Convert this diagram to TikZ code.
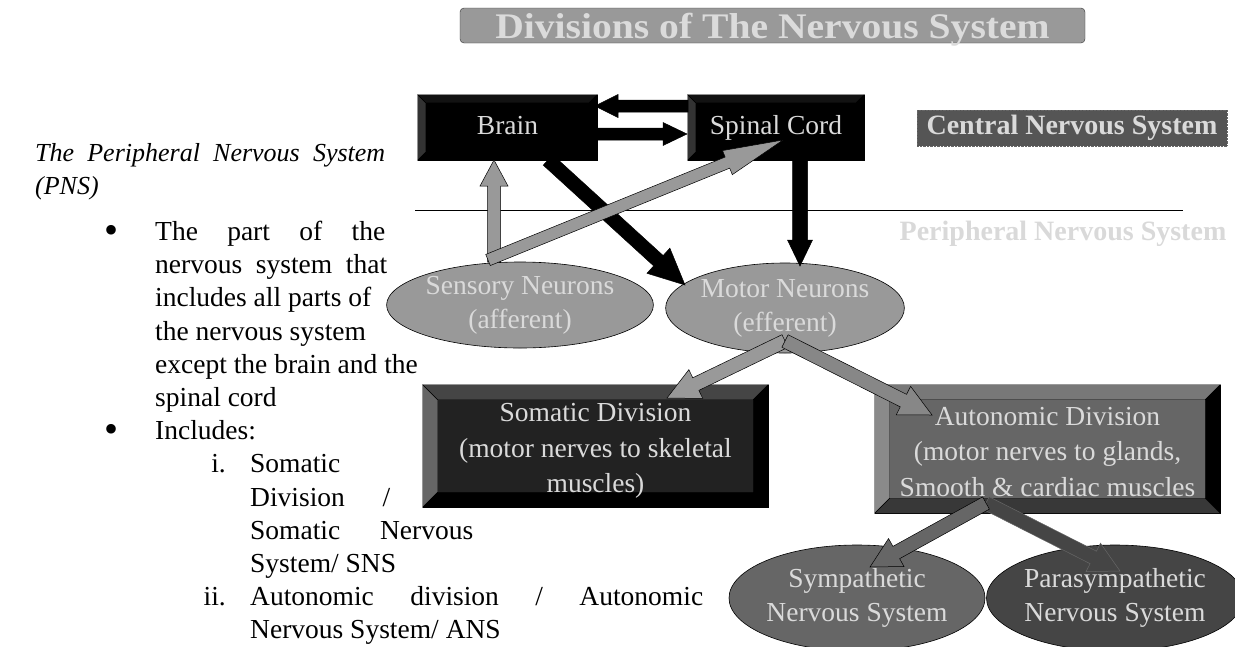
\documentclass[tikz,border=0pt]{standalone}
\usepackage{fontspec}
\setmainfont{Liberation Serif}
\usetikzlibrary{calc,shapes.geometric}

\definecolor{lighttext}{HTML}{DADADA}
\definecolor{neurongray}{HTML}{999999}
\definecolor{cnsgray}{HTML}{555555}
\definecolor{somface}{HTML}{222222}
\definecolor{autoface}{HTML}{666666}
\definecolor{symgray}{HTML}{666666}
\definecolor{paragray}{HTML}{454545}

% block arrow: style, from, to, half shaft, half head, head length
\newcommand{\blockarrow}[6]{%
  \coordinate (hb) at ($(#3)!#6!(#2)$);
  \filldraw[#1] ($(#2)!#4!90:(#3)$) -- ($(hb)!#4!90:(#3)$) -- ($(hb)!#5!90:(#3)$) -- (#3)
    -- ($(hb)!#5!-90:(#3)$) -- ($(hb)!#4!-90:(#3)$) -- ($(#2)!#4!-90:(#3)$) -- cycle;
}

% bevel frame round a box: node, width, left, top, right, bottom
\newcommand{\bevel}[6]{%
  \filldraw[fill=#3, draw=black, line width=.4pt] (#1.north west) -- (#1.south west)
    -- ([shift={(#2,-#2)}]#1.south west) -- ([shift={(#2,#2)}]#1.north west) -- cycle;
  \filldraw[fill=#4, draw=black, line width=.4pt] (#1.north west) -- (#1.north east)
    -- ([shift={(-#2,#2)}]#1.north east) -- ([shift={(#2,#2)}]#1.north west) -- cycle;
  \filldraw[fill=#5, draw=black, line width=.4pt] (#1.north east) -- (#1.south east)
    -- ([shift={(-#2,-#2)}]#1.south east) -- ([shift={(-#2,#2)}]#1.north east) -- cycle;
  \filldraw[fill=#6, draw=black, line width=.4pt] (#1.south west) -- (#1.south east)
    -- ([shift={(-#2,-#2)}]#1.south east) -- ([shift={(#2,-#2)}]#1.south west) -- cycle;
}

\tikzset{
  diag/.style={font=\fontsize{27.5}{34}\selectfont, text=lighttext, align=center, inner sep=0pt},
  bevelbox/.style={diag, draw=black, line width=.5pt},
  boxtext/.style={diag, font=\fontsize{27.5}{35.5}\selectfont},
  neuron/.style={diag, ellipse, draw=black, line width=.6pt},
  body/.style={font=\fontsize{27.5}{33}\selectfont, anchor=base west, inner sep=0pt},
  dot/.style={font=\fontsize{40}{40}\selectfont, anchor=base, inner sep=0pt},
  blockblack/.style={fill=black, draw=black, line width=.5pt},
  blockgray/.style={fill=neurongray, draw=black, line width=.5pt},
}

\begin{document}
\begin{tikzpicture}[x=1pt, y=-1pt]
    \useasboundingbox (0,0) rectangle (1235,646);

    % Title
    \node[draw=black!80, fill=black!40, rounded corners=4pt, minimum width=625, minimum height=35,
          inner sep=0pt, text depth=0pt, text=black!14, font=\bfseries\fontsize{36}{36}\selectfont]
          (title) at (772.5,25.5) {\scalebox{1.1}[1]{Divisions of The Nervous System}};

    % Text on the left
    \node[body, font=\itshape\fontsize{26}{33}\selectfont] (head) at (35,161)
          {\makebox[350pt][s]{The Peripheral Nervous System}};
    \node[body, font=\itshape\fontsize{26}{33}\selectfont] (pns) at (35,194) {(PNS)};

    \node[dot] (dot1) at (112,243) {\textbullet};
    \node[body] (l1) at (155,240.5) {\makebox[230pt][s]{The part of the}};
    \node[body] (l2) at (155,273.7) {\makebox[232pt][s]{nervous system that}};
    \node[body] (l3) at (155,306.9) {includes all parts of};
    \node[body] (l4) at (155,340.1) {the nervous system};
    \node[body] (l5) at (155,373.3) {except the brain and the};
    \node[body] (l6) at (155,406.5) {spinal cord};

    \node[dot] (dot2) at (112,442.2) {\textbullet};
    \node[body] (inc) at (155,439.7) {Includes:};

    \node[body, anchor=base east] (num1) at (226,472.9) {i.};
    \node[body] (i1) at (250,472.9) {Somatic};
    \node[body] (i2) at (250,506.1) {\makebox[140pt][s]{Division /}};
    \node[body] (i3) at (250,539.3) {\makebox[223pt][s]{Somatic Nervous}};
    \node[body] (i4) at (250,572.5) {System/ SNS};
    \node[body, anchor=base east] (num2) at (226,605.7) {ii.};
    \node[body] (ii1) at (250,605.7) {\makebox[453pt][s]{Autonomic division / Autonomic}};
    \node[body] (ii2) at (250,638.9) {Nervous System/ ANS};

    % Divider between the two systems
    \draw[line width=.8pt] (415,210) -- (1183,210);

    % Labels of the two systems
    \node[fill=cnsgray, draw=black!60, densely dotted, minimum width=310, minimum height=36, inner sep=0pt,
          text=lighttext, font=\bfseries\fontsize{28}{28}\selectfont] (cns) at (1072,128) {Central Nervous System};
    \node[inner sep=0pt, text=black!15, font=\bfseries\fontsize{28}{28}\selectfont]
          (pnslabel) at (1063,234) {Peripheral Nervous System};

    % Boxes
    \node[bevelbox, fill=black, minimum width=179, minimum height=65, text height=19pt, text depth=6pt]
          (brain) at (507.5,127.5) {Brain};
    \bevel{brain}{8}{black!80}{black!93}{black}{black}
    \node[bevelbox, fill=black, minimum width=176, minimum height=65, text height=19pt, text depth=6pt]
          (spinal) at (776,127.5) {Spinal Cord};
    \bevel{spinal}{8}{black!80}{black!93}{black}{black}
    \node[bevelbox, fill=somface, minimum width=345, minimum height=122] (somatic) at (595.5,446) {};
    \bevel{somatic}{15}{black!60}{black!73}{black}{black}
    \node[boxtext] (somatic-text) at (595.5,451)
          {Somatic Division\\(motor nerves to skeletal\\muscles)};
    \node[bevelbox, fill=autoface, minimum width=345, minimum height=128] (autonomic) at (1047.5,449) {};
    \bevel{autonomic}{15}{black!46}{black!53}{black}{black!78}
    \node[boxtext] (autonomic-text) at (1047.5,452)
          {Autonomic Division\\(motor nerves to glands,\\Smooth \& cardiac muscles};

    % Neurons
    \node[neuron, fill=neurongray, minimum width=236, minimum height=86] (sensory) at (520,305)
          {Sensory Neurons\\(afferent)};
    \node[neuron, fill=neurongray, minimum width=236, minimum height=90] (motor) at (785,308)
          {Motor Neurons\\(efferent)};
    \node[neuron, fill=symgray, minimum width=237, minimum height=106] (sym) at (857,598)
          {Sympathetic\\Nervous System};
    \node[neuron, fill=paragray, minimum width=236, minimum height=106] (para) at (1115,598)
          {Parasympathetic\\Nervous System};

    % Ends of the arrows
    \coordinate (spinal-w) at (688,106);
    \coordinate (brain-e) at (595,106);
    \coordinate (brain-e2) at (597,134);
    \coordinate (spinal-w2) at (687,134);
    \coordinate (brain-s) at (548,160);
    \coordinate (motor-nw) at (685,285);
    \coordinate (spinal-s) at (800,160);
    \coordinate (motor-n) at (800,266);
    \coordinate (sensory-n) at (494,262);
    \coordinate (brain-s2) at (494,160);
    \coordinate (sensory-nw) at (488,260);
    \coordinate (spinal-in) at (783,140);
    \coordinate (motor-in) at (785,341);
    \coordinate (somatic-n) at (667,398);
    \coordinate (autonomic-nw) at (932,415);
    \coordinate (autonomic-in) at (986,503);
    \coordinate (para-n) at (1120,571);
    \coordinate (sym-n) at (870,567);

    % Arrows of the central system
    \blockarrow{blockblack}{spinal-w}{brain-e}{6pt}{11.5pt}{23pt}
    \blockarrow{blockblack}{brain-e2}{spinal-w2}{6pt}{11.5pt}{24pt}
    \blockarrow{blockblack}{brain-s}{motor-nw}{7pt}{17pt}{36pt}
    \blockarrow{blockblack}{spinal-s}{motor-n}{7.5pt}{12.5pt}{26pt}

    % Arrows of the peripheral system
    \blockarrow{blockgray}{sensory-n}{brain-s2}{6.5pt}{14pt}{26pt}
    \blockarrow{blockgray}{sensory-nw}{spinal-in}{6pt}{13pt}{60pt}
    \blockarrow{blockgray}{motor-in}{somatic-n}{7pt}{16pt}{32pt}
    \blockarrow{blockgray, fill=black!47}{motor-in}{autonomic-nw}{7pt}{16pt}{32pt}
    \blockarrow{blockgray, fill=paragray, draw=black!60}{autonomic-in}{para-n}{7pt}{16pt}{30pt}
    \blockarrow{blockgray, fill=symgray}{autonomic-in}{sym-n}{7pt}{16pt}{30pt}

\end{tikzpicture}
\end{document}
